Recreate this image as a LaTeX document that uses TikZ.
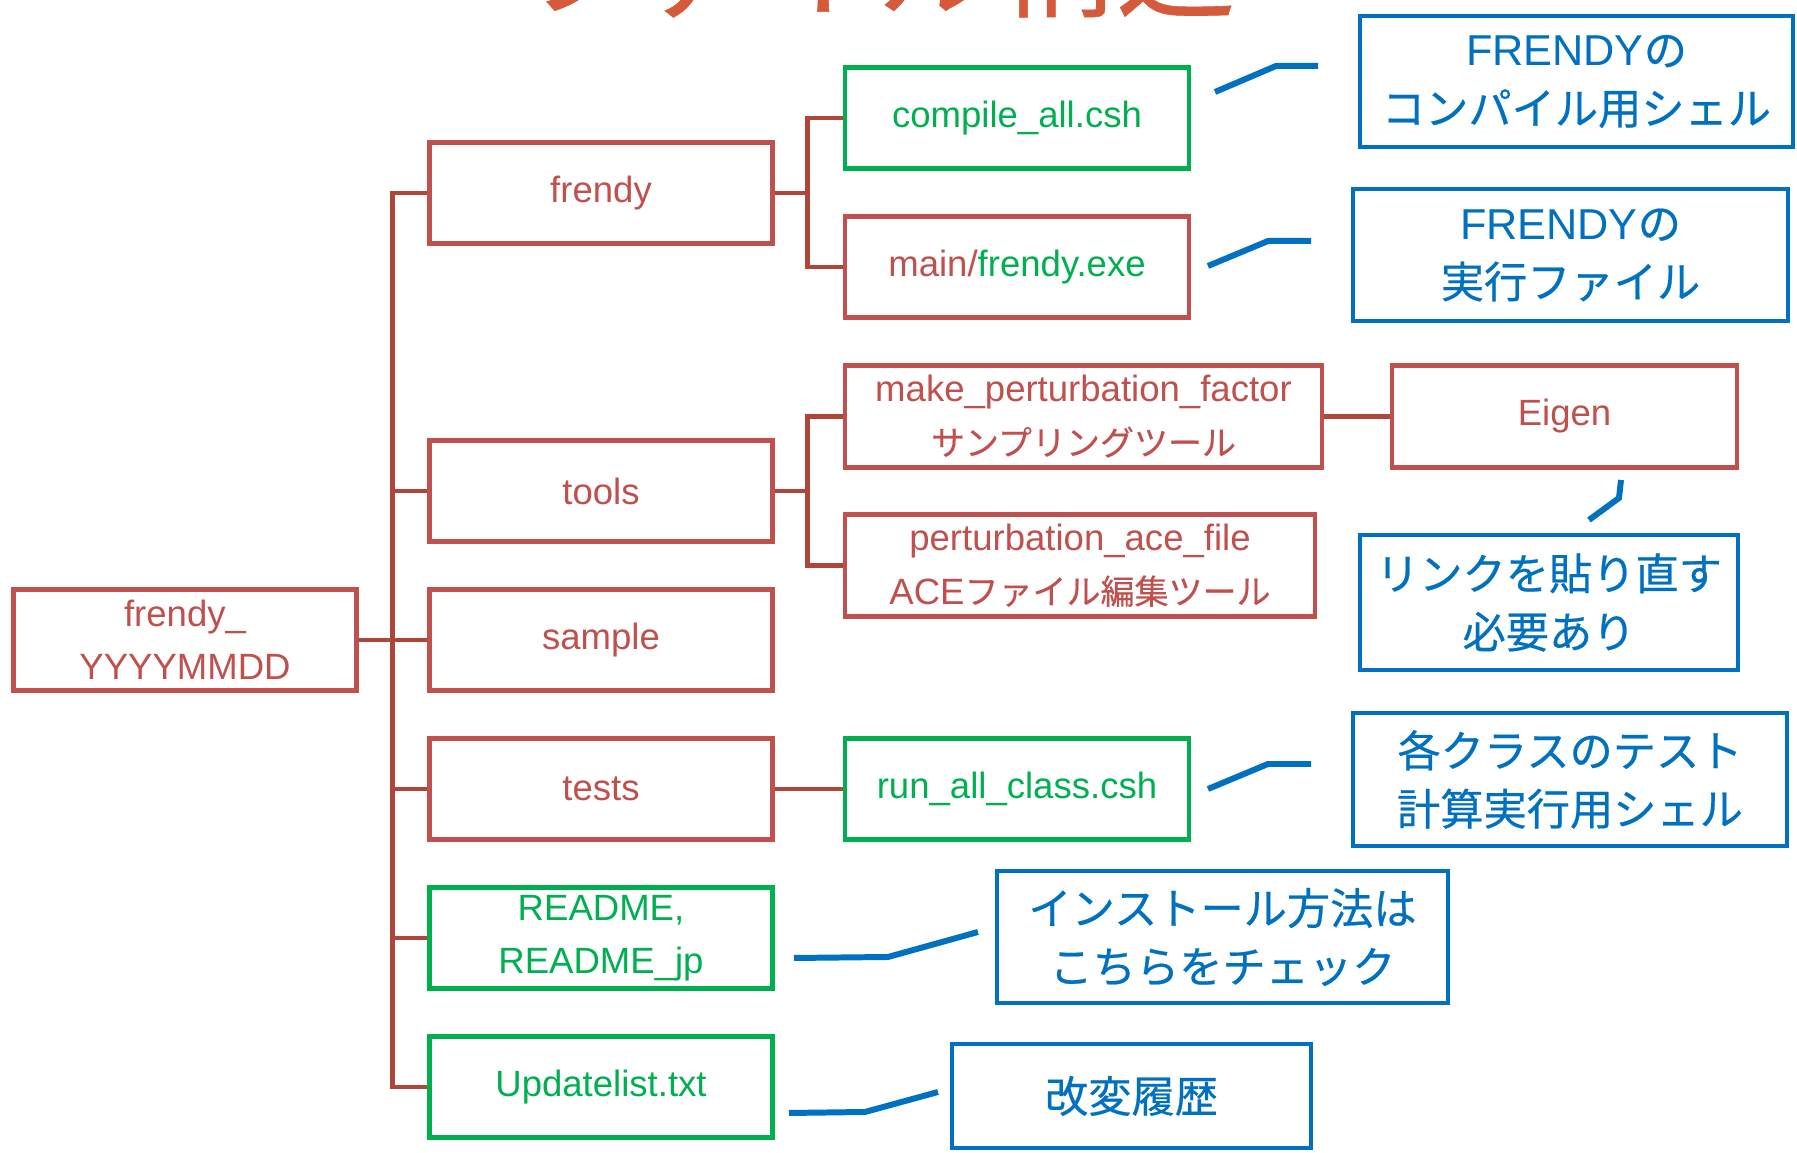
\documentclass[tikz,border=0pt]{standalone}
\usepackage{fontspec}
\setmainfont{Liberation Sans}
\newfontfamily\jp[FakeBold=0.5]{Noto Sans CJK JP}
\newfontfamily\jps[Scale=0.93,FakeBold=0.3]{Noto Sans CJK JP}
\definecolor{dirred}{HTML}{C0504D}
\definecolor{treered}{HTML}{B0463A}
\definecolor{filegreen}{HTML}{00B050}
\definecolor{noteblue}{HTML}{0070C0}
\definecolor{titlered}{HTML}{D55A3C}
\tikzset{
  dirbox/.style={draw=dirred, text=dirred, line width=1.3pt, minimum width=3.43cm,
    minimum height=1.015cm, inner sep=0pt, align=center, font=\fontsize{10.4}{15.2}\selectfont},
  filebox/.style={dirbox, draw=filegreen, text=filegreen},
  notebox/.style={draw=noteblue, text=noteblue, line width=1.35pt, inner sep=0pt,
    align=center, font=\fontsize{12.3}{16.6}\selectfont},
  tree/.style={draw=treered, line width=1.4pt},
  noteline/.style={draw=noteblue, line width=1.7pt}
}

\begin{document}
\begin{tikzpicture}
        \useasboundingbox (0,0) rectangle (17.97,-11.53);
        \begin{scope}
            \clip (0,0) rectangle (17.97,-11.53);
            \node[text=titlered, font=\jp\fontsize{34}{34}\selectfont, anchor=base, inner sep=0pt] (title) at (8.77,-0.08) {ファイル構造};
        \end{scope}

        % directories and files
        \node[dirbox] (root) at (1.85,-6.40) {frendy\_\\YYYYMMDD};
        \node[dirbox] (frendy) at (6.01,-1.93) {frendy};
        \node[dirbox] (tools) at (6.01,-4.91) {tools};
        \node[dirbox] (sample) at (6.01,-6.40) {sample};
        \node[dirbox] (tests) at (6.01,-7.89) {tests};
        \node[filebox] (readme) at (6.01,-9.38) {README,\\README\_jp};
        \node[filebox] (update) at (6.01,-10.87) {Updatelist.txt};

        \node[filebox, minimum width=3.44cm] (compile) at (10.17,-1.18) {compile\_all.csh};
        \node[dirbox, minimum width=3.44cm] (mainexe) at (10.17,-2.67) {main/\textcolor{filegreen}{frendy.exe}};
        \node[dirbox, minimum width=4.77cm] (makepf) at (10.835,-4.165) {make\_perturbation\_factor\\{\jps サンプリングツール}};
        \node[dirbox, minimum width=4.70cm] (peace) at (10.80,-5.655) {perturbation\_ace\_file\\ACE{\jps ファイル編集ツール}};
        \node[dirbox, minimum width=3.45cm] (eigen) at (15.645,-4.165) {Eigen};
        \node[filebox, minimum width=3.44cm] (runall) at (10.17,-7.89) {run\_all\_class.csh};

        % notes
        \node[notebox, minimum width=4.33cm, minimum height=1.31cm] (compnote) at (15.765,-0.815) {FRENDY{\jp の}\\{\jp コンパイル用シェル}};
        \node[notebox, minimum width=4.35cm, minimum height=1.32cm] (exenote) at (15.705,-2.55) {FRENDY{\jp の}\\{\jp 実行ファイル}};
        \node[notebox, minimum width=3.78cm, minimum height=1.35cm] (linknote) at (15.49,-6.025) {\jp リンクを貼り直す\\\jp 必要あり};
        \node[notebox, minimum width=4.34cm, minimum height=1.33cm] (testnote) at (15.70,-7.795) {\jp 各クラスのテスト\\\jp 計算実行用シェル};
        \node[notebox, minimum width=4.51cm, minimum height=1.32cm] (instnote) at (12.225,-9.37) {\jp インストール方法は\\\jp こちらをチェック};
        \node[notebox, minimum width=3.59cm, minimum height=1.04cm] (histnote) at (11.315,-10.96) {\jp 改変履歴};

        % tree
        \foreach \c in {frendy,tools,sample,tests,readme,update}
            \draw[tree] (root.east) -- ++(0.34,0) |- (\c.west);
        \foreach \c in {compile,mainexe}
            \draw[tree] (frendy.east) -- ++(0.33,0) |- (\c.west);
        \foreach \c in {makepf,peace}
            \draw[tree] (tools.east) -- ++(0.33,0) |- (\c.west);
        \draw[tree] (tests) -- (runall);
        \draw[tree] (makepf) -- (eigen);

        % callout lines
        \coordinate (c1a) at (12.15,-0.92);
        \coordinate (c1b) at (12.76,-0.66);
        \coordinate (c1c) at (13.18,-0.66);
        \coordinate (c2a) at (12.08,-2.66);
        \coordinate (c2b) at (12.68,-2.41);
        \coordinate (c2c) at (13.11,-2.41);
        \coordinate (c3a) at (15.89,-5.20);
        \coordinate (c3b) at (16.19,-4.98);
        \coordinate (c3c) at (16.21,-4.80);
        \coordinate (c4a) at (12.08,-7.89);
        \coordinate (c4b) at (12.68,-7.64);
        \coordinate (c4c) at (13.11,-7.64);
        \coordinate (c5a) at (7.94,-9.58);
        \coordinate (c5b) at (8.88,-9.57);
        \coordinate (c5c) at (9.78,-9.32);
        \coordinate (c6a) at (7.89,-11.13);
        \coordinate (c6b) at (8.65,-11.12);
        \coordinate (c6c) at (9.38,-10.92);
        \foreach \n in {1,...,6}
            \draw[noteline] (c\n a) -- (c\n b) -- (c\n c);
\end{tikzpicture}
\end{document}
